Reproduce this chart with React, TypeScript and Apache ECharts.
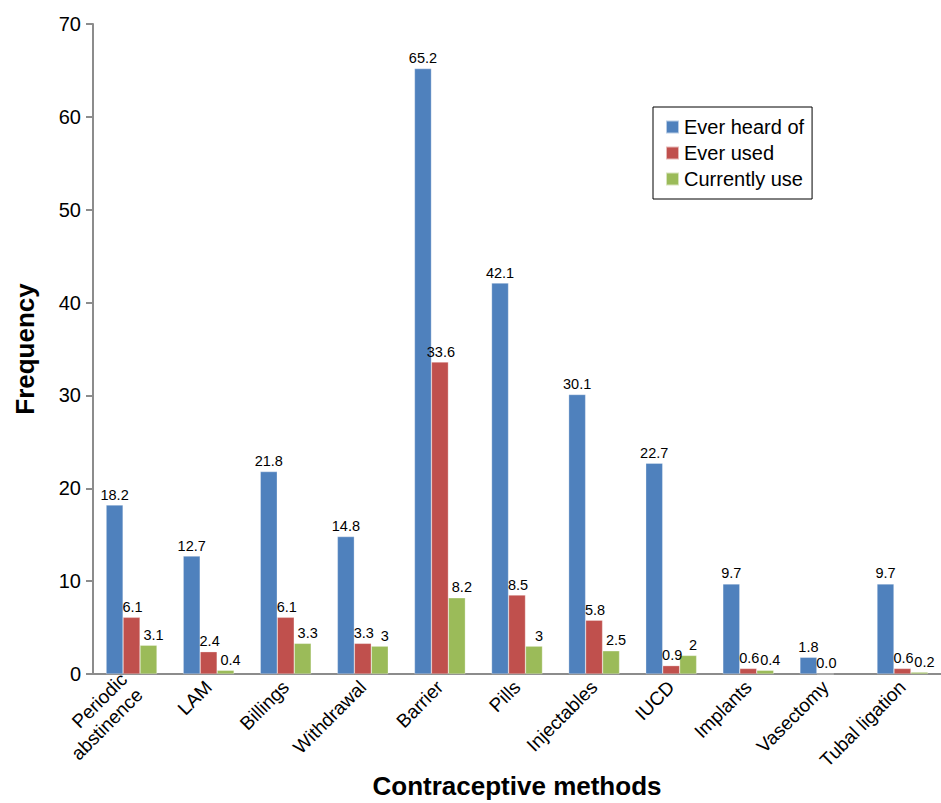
import React, { useEffect, useRef } from "react";
import * as echarts from "echarts";

const categories = [
  "Periodic\nabstinence",
  "LAM",
  "Billings",
  "Withdrawal",
  "Barrier",
  "Pills",
  "Injectables",
  "IUCD",
  "Implants",
  "Vasectomy",
  "Tubal ligation",
];
const everHeard = [18.2, 12.7, 21.8, 14.8, 65.2, 42.1, 30.1, 22.7, 9.7, 1.8, 9.7];
const everUsed = [6.1, 2.4, 6.1, 3.3, 33.6, 8.5, 5.8, 0.9, 0.6, 0, 0.6];
const currentlyUse = [3.1, 0.4, 3.3, 3, 8.2, 3, 2.5, 2, 0.4, null, 0.2];
const yTicks = [0, 10, 20, 30, 40, 50, 60, 70];

const FONT = "'Liberation Sans', Arial, sans-serif";

export default function App() {
  const ref = useRef<HTMLDivElement>(null);
  useEffect(() => {
    if (!ref.current) return;
    const chart = echarts.init(ref.current, undefined, { renderer: "svg" });
    const mkLabel = (dx: number) => ({
      show: true,
      position: "top" as const,
      distance: 3,
      offset: [dx, 0],
      fontSize: 14.5,
      color: "#000",
      fontFamily: FONT,
      formatter: (p: any) => (p.value === 0 ? "0.0" : String(p.value)),
    });
    const mk = (name: string, data: any[], color: string, dx: number) => ({
      name,
      type: "bar" as const,
      data,
      barGap: "0%",
      barCategoryGap: "34%",
      itemStyle: { color, borderColor: "rgba(255,255,255,0.6)", borderWidth: 0.5 },
      label: mkLabel(dx),
    });
    chart.setOption({
      animation: false,
      textStyle: { fontFamily: FONT },
      grid: {
        left: 93,
        top: 24,
        right: 0,
        bottom: 129,
        containLabel: false,
        outerBoundsMode: "none",
      },
      legend: {
        orient: "vertical",
        left: 653,
        top: 107,
        padding: [10, 8, 10, 12],
        borderColor: "#000",
        borderWidth: 1,
        itemWidth: 13,
        itemHeight: 13,
        itemGap: 6,
        itemTextGap: 9,
        icon: "rect",
        textStyle: { fontSize: 20, color: "#000", fontFamily: FONT, lineHeight: 20 },
        data: ["Ever heard of", "Ever used", "Currently use"],
      },
      xAxis: {
        type: "category",
        data: categories,
        name: "Contraceptive methods",
        nameLocation: "middle",
        nameGap: 98,
        nameMoveOverlap: false,
        nameTextStyle: {
          fontSize: 26,
          lineHeight: 28,
          fontWeight: "bold",
          color: "#000",
          fontFamily: FONT,
        },
        axisLine: { lineStyle: { color: "#8c8c8c", width: 2 } },
        axisTick: { show: false },
        axisLabel: {
          rotate: 45,
          interval: 0,
          fontSize: 19,
          color: "#000",
          margin: 10,
          fontFamily: FONT,
          lineHeight: 22,
        },
      },
      yAxis: {
        type: "value",
        min: yTicks[0],
        max: yTicks[yTicks.length - 1],
        interval: 10,
        name: "Frequency",
        nameLocation: "middle",
        nameGap: 55,
        nameMoveOverlap: false,
        nameTextStyle: { fontSize: 26, fontWeight: "bold", color: "#000", fontFamily: FONT },
        splitLine: { show: false },
        axisLine: { show: true, lineStyle: { color: "#8c8c8c", width: 2 } },
        axisTick: { show: true, length: 7, lineStyle: { color: "#8c8c8c", width: 2 } },
        axisLabel: { fontSize: 20, color: "#000", margin: 12, fontFamily: FONT },
      },
      series: [
        mk("Ever heard of", everHeard, "#4F81BD", 0),
        mk("Ever used", everUsed, "#C0504D", 1),
        mk("Currently use", currentlyUse, "#9BBB59", 5),
      ],
    });
    return () => chart.dispose();
  }, []);
  return <div ref={ref} style={{ width: 941, height: 803, position: "absolute", left: 0, top: 0 }} />;
}
